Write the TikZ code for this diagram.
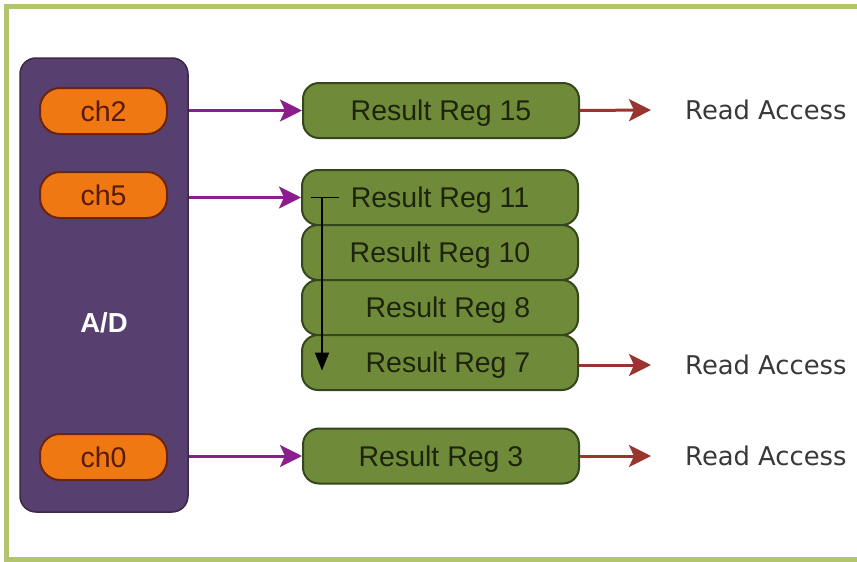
\documentclass[tikz,border=0pt]{standalone}
\usepackage{fontspec}
\setmainfont{Liberation Sans}
\newfontfamily\labelfont{DejaVu Sans}
\usetikzlibrary{arrows.meta,calc}
\definecolor{frameGreen}{HTML}{B2C56C}
\definecolor{adFill}{HTML}{573F6F}
\definecolor{adLine}{HTML}{3A2A48}
\definecolor{chFill}{HTML}{F07812}
\definecolor{chLine}{HTML}{6A2410}
\definecolor{chText}{HTML}{5A1A08}
\definecolor{regFill}{HTML}{6F8B3A}
\definecolor{regLine}{HTML}{34461C}
\definecolor{regText}{HTML}{1E240C}
\definecolor{inArrow}{HTML}{8C1E8C}
\definecolor{outArrow}{HTML}{98352F}
\definecolor{accessText}{HTML}{383838}
\tikzset{
  adbox/.style={draw=adLine, line width=1.5pt, fill=adFill, rounded corners=16pt,
    minimum width=168pt, minimum height=454pt, inner sep=0pt},
  chbox/.style={draw=chLine, line width=2pt, fill=chFill, rounded corners=20pt,
    minimum width=127pt, minimum height=46pt, inner sep=0pt, text=chText,
    text depth=0pt, font=\fontsize{28.5}{31}\selectfont},
  regbox/.style={draw=regLine, line width=2pt, fill=regFill, rounded corners=16pt,
    minimum width=276pt, minimum height=55pt, inner sep=0pt, text=regText,
    text depth=0pt, font=\fontsize{28.5}{31}\selectfont},
  access/.style={anchor=west, inner sep=0pt, text=accessText,
    font=\labelfont\fontsize{25.8}{29}\selectfont},
  inflow/.style={draw=inArrow, line width=3pt,
    -{Stealth[length=22pt,width=22pt,inset=5pt]}},
  outflow/.style={draw=outArrow, line width=3pt,
    -{Stealth[length=22pt,width=22pt,inset=5pt]}},
  order/.style={draw=black, line width=2pt,
    -{Triangle[length=18pt,width=14pt]}}
}
\begin{document}
\begin{tikzpicture}[x=1pt,y=-1pt]
\useasboundingbox (0,0) rectangle (857,562);
% outer frame, open past the right edge
\draw[frameGreen, line width=5pt] (875,6) -- (6,6) -- (6,559) -- (875,559);

% converter block with its channels
\node[adbox] (ad) at (104,285) {};
\node[text=white, text depth=0pt, font=\bfseries\fontsize{27.5}{30}\selectfont] (adlabel) at (104,323) {A/D};
\node[chbox] (ch2) at (103.5,111) {ch2};
\node[chbox] (ch5) at (103.5,195) {ch5};
\node[chbox] (ch0) at (103.5,457) {ch0};

% result registers
\node[regbox] (r15) at (441,110.5) {Result Reg 15};
\node[regbox] (r11) at (440,197.5) {Result Reg 11};
\node[regbox] (r10) at (440,252.5) {Result Reg 10};
\node[regbox] (r8)  at (440,307.5) {\hspace{16pt}Result Reg 8};
\node[regbox] (r7)  at (440,362.5) {\hspace{16pt}Result Reg 7};
\node[regbox] (r3)  at (441,456) {Result Reg 3};

% read access labels
\node[access] (a15) at (685,110) {Read Access};
\node[access] (a7)  at (685,365) {Read Access};
\node[access] (a3)  at (685,456) {Read Access};

% channel to register connections
\draw[inflow] (ad.east |- r15.west) -- (r15.west);
\draw[inflow] (ad.east |- r11.west) -- (r11.west);
\draw[inflow] (ad.east |- r3.west) -- (r3.west);

% register to read access connections
\draw[outflow] (r15.east) -- ($(a15.west)+(-34,0)$);
\draw[outflow] (r7.east |- a7.west) -- ($(a7.west)+(-34,0)$);
\draw[outflow] (r3.east) -- ($(a3.west)+(-34,0)$);

% fill order through the register stack
\coordinate (tickL) at ($(r11.west)+(10,0)$);
\coordinate (tickR) at ($(r11.west)+(38,0)$);
\coordinate (downTop) at ($(r11.west)+(21,0)$);
\coordinate (downEnd) at ($(r7.west)+(21,8)$);
\draw[black, line width=1.5pt] (tickL) -- (tickR);
\draw[order] (downTop) -- (downEnd);
\end{tikzpicture}
\end{document}
